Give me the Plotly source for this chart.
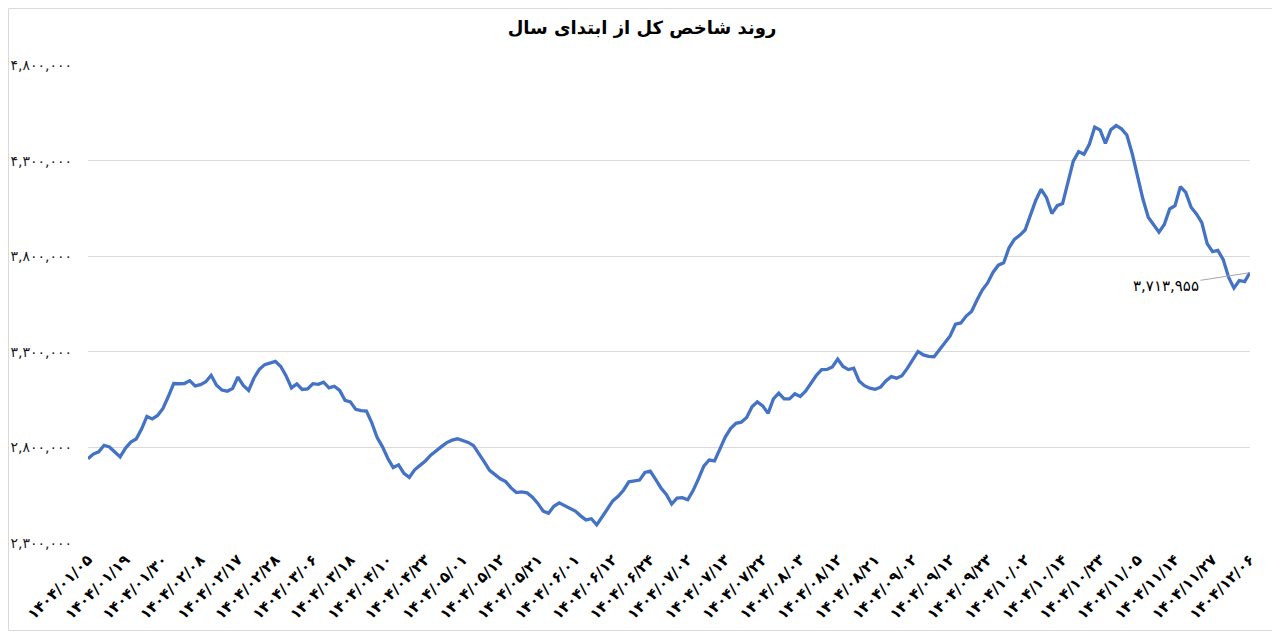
import plotly.graph_objects as go

# Daily closing values of the TEDPIX index, index units
index_values = [
    2741000, 2765000, 2777000, 2811000, 2802000, 2777000, 2750000, 2796000, 2828000, 2844000,
    2896000, 2962000, 2949000, 2967000, 3004000, 3066000, 3134000, 3133000, 3134000, 3149000,
    3122000, 3128000, 3143000, 3177000, 3125000, 3100000, 3094000, 3108000, 3168000, 3124000,
    3098000, 3163000, 3208000, 3233000, 3241000, 3250000, 3223000, 3174000, 3111000, 3132000,
    3103000, 3106000, 3133000, 3130000, 3141000, 3111000, 3120000, 3098000, 3046000, 3038000,
    2999000, 2992000, 2990000, 2928000, 2852000, 2803000, 2742000, 2695000, 2709000, 2664000,
    2643000, 2683000, 2706000, 2729000, 2759000, 2783000, 2804000, 2825000, 2838000, 2845000,
    2837000, 2826000, 2809000, 2769000, 2724000, 2680000, 2656000, 2636000, 2621000, 2588000,
    2564000, 2567000, 2562000, 2540000, 2507000, 2467000, 2456000, 2492000, 2510000, 2497000,
    2481000, 2467000, 2442000, 2421000, 2427000, 2395000, 2436000, 2479000, 2520000, 2544000,
    2576000, 2620000, 2626000, 2629000, 2669000, 2676000, 2633000, 2588000, 2554000, 2504000,
    2535000, 2537000, 2526000, 2574000, 2635000, 2702000, 2734000, 2729000, 2791000, 2854000,
    2898000, 2926000, 2932000, 2956000, 3012000, 3038000, 3017000, 2978000, 3054000, 3084000,
    3054000, 3054000, 3080000, 3066000, 3094000, 3136000, 3176000, 3207000, 3208000, 3221000,
    3262000, 3223000, 3207000, 3214000, 3147000, 3123000, 3110000, 3104000, 3115000, 3148000,
    3170000, 3162000, 3175000, 3213000, 3259000, 3302000, 3284000, 3276000, 3274000, 3312000,
    3345000, 3383000, 3444000, 3451000, 3487000, 3511000, 3570000, 3623000, 3660000, 3715000,
    3753000, 3765000, 3844000, 3888000, 3909000, 3937000, 4015000, 4093000, 4150000, 4106000,
    4023000, 4064000, 4075000, 4187000, 4297000, 4347000, 4333000, 4385000, 4475000, 4460000,
    4390000, 4461000, 4483000, 4466000, 4434000, 4337000, 4219000, 4099000, 4004000, 3967000,
    3926000, 3966000, 4047000, 4064000, 4164000, 4134000, 4056000, 4021000, 3976000, 3866000,
    3824000, 3830000, 3782000, 3690000, 3633000, 3673000, 3667000, 3713955,
]

# Date labels shown on the x axis (one every 7 trading days)
date_labels = [
    "۱۴۰۴/۰۱/۰۵", "۱۴۰۴/۰۱/۱۹", "۱۴۰۴/۰۱/۳۰", "۱۴۰۴/۰۲/۰۸", "۱۴۰۴/۰۲/۱۷", "۱۴۰۴/۰۲/۲۸",
    "۱۴۰۴/۰۳/۰۶", "۱۴۰۴/۰۳/۱۸", "۱۴۰۴/۰۴/۱۰", "۱۴۰۴/۰۴/۲۳", "۱۴۰۴/۰۵/۰۱", "۱۴۰۴/۰۵/۱۲",
    "۱۴۰۴/۰۵/۲۱", "۱۴۰۴/۰۶/۰۱", "۱۴۰۴/۰۶/۱۲", "۱۴۰۴/۰۶/۲۴", "۱۴۰۴/۰۷/۰۲", "۱۴۰۴/۰۷/۱۳",
    "۱۴۰۴/۰۷/۲۲", "۱۴۰۴/۰۸/۰۳", "۱۴۰۴/۰۸/۱۲", "۱۴۰۴/۰۸/۲۱", "۱۴۰۴/۰۹/۰۲", "۱۴۰۴/۰۹/۱۲",
    "۱۴۰۴/۰۹/۲۳", "۱۴۰۴/۱۰/۰۲", "۱۴۰۴/۱۰/۱۴", "۱۴۰۴/۱۰/۲۳", "۱۴۰۴/۱۱/۰۵", "۱۴۰۴/۱۱/۱۴",
    "۱۴۰۴/۱۱/۲۷", "۱۴۰۴/۱۲/۰۶",
]
label_step = 7

y_ticks = [2300000, 2800000, 3300000, 3800000, 4300000, 4800000]
title_text = "روند شاخص کل از ابتدای سال"

FA = str.maketrans("0123456789", "۰۱۲۳۴۵۶۷۸۹")


def fa_num(v):
    return f"{v:,}".translate(FA)


x_idx = list(range(len(index_values)))
tickvals_x = x_idx[::label_step][: len(date_labels)]

fig = go.Figure()
fig.add_trace(go.Scatter(
    x=x_idx, y=index_values, mode="lines",
    line=dict(color="#4472C4", width=3.3),
    hoverinfo="y", showlegend=False,
))

last_x = x_idx[-1]
last_y = index_values[-1]
fig.add_annotation(
    x=last_x, y=last_y, xref="x", yref="y",
    text=fa_num(last_y), showarrow=True, arrowhead=0, arrowwidth=1,
    arrowcolor="#a6a6a6", ax=-84, ay=13, standoff=0,
    font=dict(family="DejaVu Sans", size=15, color="#000000"),
)

fig.add_shape(type="rect", xref="paper", yref="paper",
              x0=-0.0684, x1=1.0219, y0=-0.1831, y1=1.1182,
              line=dict(color="#d9d9d9", width=1), layer="below")

fig.update_layout(
    width=1268, height=623,
    margin=dict(l=80, r=26, t=57, b=88, autoexpand=False),
    paper_bgcolor="white", plot_bgcolor="white",
    title=dict(text=f"<b>{title_text}</b>", x=0.5, xref="container", xanchor="center",
               y=0.968, yref="container", yanchor="middle",
               font=dict(family="DejaVu Sans", size=18, color="#000000")),
    xaxis=dict(
        range=[0, len(index_values) - 1], automargin=False,
        tickmode="array", tickvals=tickvals_x,
        ticktext=[f"<b>{t}</b>" for t in date_labels],
        tickangle=-45, showgrid=False, zeroline=False, showline=False,
        ticks="", ticklen=0, ticklabelstandoff=4,
        tickfont=dict(family="DejaVu Sans", size=15, color="#000000"),
    ),
    yaxis=dict(
        range=[2300000, 4800000], automargin=False,
        tickmode="array", tickvals=y_ticks,
        ticktext=[fa_num(v) for v in y_ticks],
        showgrid=True, gridcolor="#d9d9d9", gridwidth=1, zeroline=False,
        showline=False, ticks="", ticklabelstandoff=15,
        tickfont=dict(family="DejaVu Sans", size=14, color="#1a1a1a"),
    ),
)

fig.write_html("out.html")
